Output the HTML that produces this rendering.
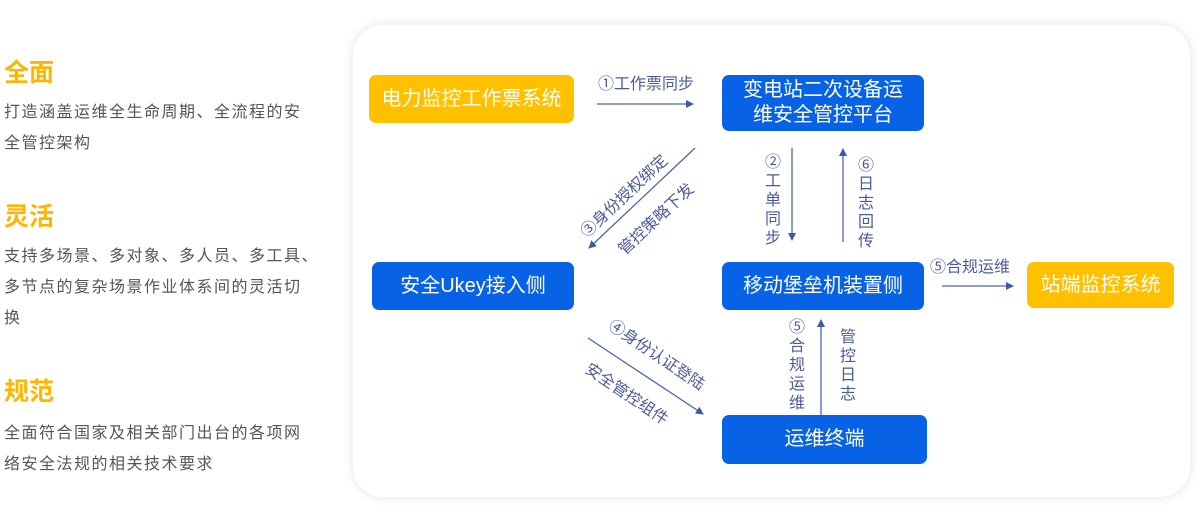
<!DOCTYPE html>
<html><head><meta charset="utf-8"><style>
body{margin:0;width:1200px;height:520px;background:#fff;position:relative;overflow:hidden;font-family:"Liberation Sans","Noto Sans CJK SC",sans-serif}
.t{position:absolute;left:4px;font-size:25px;font-weight:bold;color:#FFB400;line-height:30px}
.p{position:absolute;left:4px;white-space:nowrap;font-size:16px;letter-spacing:1.5px;line-height:31px;color:#555}
.panel{position:absolute;left:353px;top:25px;width:837px;height:472px;border-radius:30px;background:#fff;box-shadow:0 0 10px rgba(0,0,0,0.12)}
.b{position:absolute;display:flex;align-items:center;justify-content:center;text-align:center;color:#fff;font-size:20px;border-radius:7px;background:#0762E6;line-height:25px}
.y{background:#FFC000}
.l{position:absolute;color:#4a5aa0;font-size:16px;line-height:18px;white-space:nowrap}
.c{transform:translate(-50%,-50%) rotate(var(--r))}
.v{width:18px;text-align:center;line-height:19px}
</style></head><body>
<div class="t" style="top:58px">全面</div>
<div class="p" style="top:97px">打造涵盖运维全生命周期、全流程的安<br>全管控架构</div>
<div class="t" style="top:202px">灵活</div>
<div class="p" style="top:241px">支持多场景、多对象、多人员、多工具、<br>多节点的复杂场景作业体系间的灵活切<br>换</div>
<div class="t" style="top:377px">规范</div>
<div class="p" style="top:418px">全面符合国家及相关部门出台的各项网<br>络安全法规的相关技术要求</div>
<div class="panel"></div>
<div class="b y" style="left:369px;top:75px;width:205px;height:48px">电力监控工作票系统</div>
<div class="b" style="left:722px;top:75px;width:202px;height:56px">变电站二次设备运<br>维安全管控平台</div>
<div class="b" style="left:372px;top:262px;width:202px;height:48px">安全Ukey接入侧</div>
<div class="b" style="left:722px;top:262px;width:202px;height:48px">移动堡垒机装置侧</div>
<div class="b y" style="left:1027px;top:262px;width:147px;height:46px">站端监控系统</div>
<div class="b" style="left:722px;top:415px;width:205px;height:49px">运维终端</div>
<svg width="1200" height="520" style="position:absolute;left:0;top:0">
<defs><marker id="a" markerWidth="8" markerHeight="8" refX="7" refY="4" orient="auto" markerUnits="userSpaceOnUse"><path d="M0,0L8,4L0,8z" fill="#3d5aa8"/></marker></defs>
<g stroke="#4a66b0" stroke-width="1.3" marker-end="url(#a)">
<line x1="597" y1="104" x2="693" y2="104"/>
<line x1="695" y1="148" x2="589" y2="248"/>
<line x1="792" y1="148" x2="792" y2="240"/>
<line x1="843" y1="242" x2="843" y2="149"/>
<line x1="942" y1="286" x2="1013" y2="286"/>
<line x1="821" y1="415" x2="821" y2="320"/>
<line x1="588" y1="338" x2="703" y2="414"/>
</g>
</svg>
<div class="l" style="left:598px;top:76px">①工作票同步</div>
<div class="l" style="left:930px;top:259px">⑤合规运维</div>
<div class="l c" style="left:625px;top:197px;--r:-43deg">③身份授权绑定</div>
<div class="l c" style="left:657px;top:220px;--r:-43deg">管控策略下发</div>
<div class="l c" style="left:656px;top:356px;--r:34deg">④身份认证登陆</div>
<div class="l c" style="left:626px;top:395px;--r:34deg">安全管控组件</div>
<div class="l v" style="left:764px;top:153px">②<br>工<br>单<br>同<br>步</div>
<div class="l v" style="left:857px;top:156px">⑥<br>日<br>志<br>回<br>传</div>
<div class="l v" style="left:788px;top:318px">⑤<br>合<br>规<br>运<br>维</div>
<div class="l v" style="left:839px;top:328px">管<br>控<br>日<br>志</div>
</body></html>
